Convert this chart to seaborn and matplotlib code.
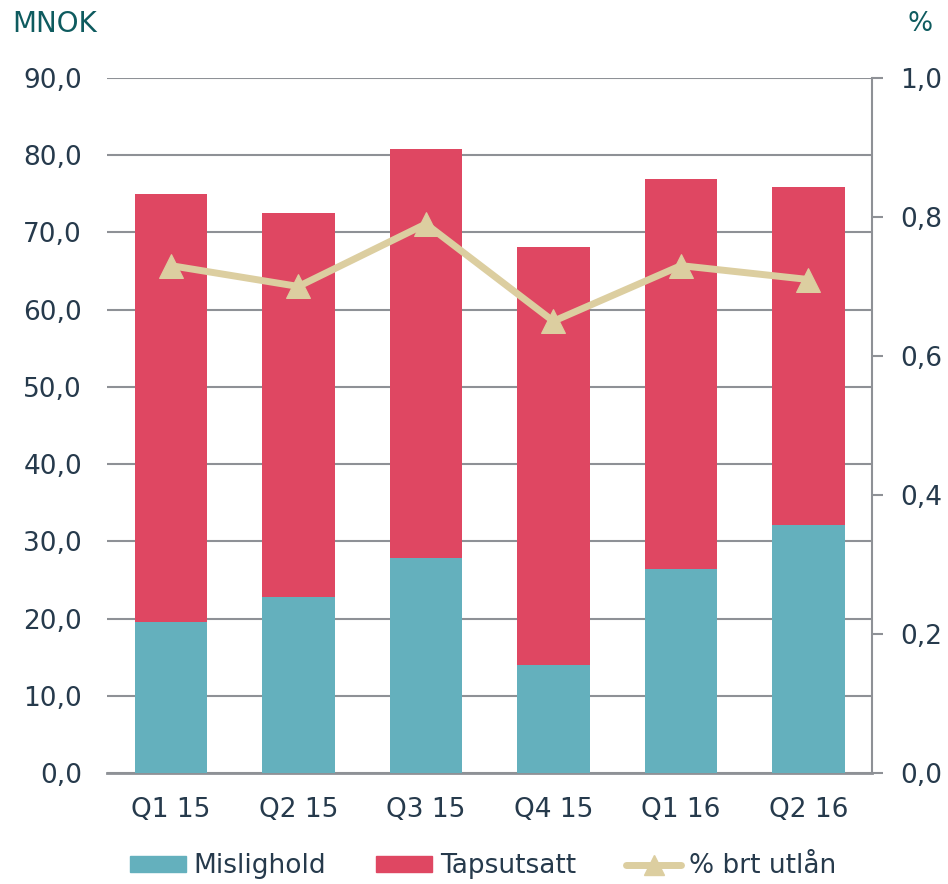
"""
Mislighold / Tapsutsatt per kvartal med % brt utlån
"""
import matplotlib
matplotlib.use('Agg')
import matplotlib.pyplot as plt
import matplotlib.ticker as mticker
import seaborn as sns
import pandas as pd

# data
kvartal = ['Q1 15', 'Q2 15', 'Q3 15', 'Q4 15', 'Q1 16', 'Q2 16']
mislighold = [19.5, 22.8, 27.8, 14.0, 26.4, 32.1]
tapsutsatt = [55.5, 49.7, 53.0, 54.1, 50.5, 43.8]
pst_utlan = [0.73, 0.70, 0.79, 0.65, 0.73, 0.71]

df = pd.DataFrame({'kvartal': kvartal, 'mislighold': mislighold,
                   'tapsutsatt': tapsutsatt, 'pst': pst_utlan})
df['total'] = df['mislighold'] + df['tapsutsatt']

sns.set_style('white')
plt.rcParams['font.family'] = ['DejaVu Sans']

teal = '#64b0bd'
red = '#df4762'
beige = '#dccea0'
txt = '#263a4c'
grid = '#8e9196'

fig = plt.figure(figsize=(9.48, 8.84), dpi=100)
ax = fig.add_axes([0.113, 0.1256, 0.807, 0.7862])

# stablet søyle: total i rødt, mislighold oppå i teal
sns.barplot(data=df, x='kvartal', y='total', color=red, width=0.57,
            saturation=1, linewidth=0, ax=ax, zorder=3)
sns.barplot(data=df, x='kvartal', y='mislighold', color=teal, width=0.57,
            saturation=1, linewidth=0, ax=ax, zorder=3)

ax.set_ylim(0, 90)
ax.set_xlim(-0.5, 5.5)
ax.set_yticks(range(0, 91, 10))
ax.yaxis.set_major_formatter(mticker.FuncFormatter(lambda v, p: f'{v:.1f}'.replace('.', ',')))
ax.grid(axis='y', color=grid, linewidth=1.5, zorder=0)
ax.set_axisbelow(True)
for s in ['top', 'right', 'left']:
    ax.spines[s].set_visible(False)
ax.spines['bottom'].set_color(grid)
ax.spines['bottom'].set_linewidth(2)
ax.tick_params(axis='y', length=0, pad=18, labelsize=19, labelcolor=txt)
ax.tick_params(axis='x', length=0, pad=17, labelsize=19, labelcolor=txt)
ax.set_xlabel('')
ax.set_ylabel('')

# høyre akse med linje
ax2 = ax.twinx()
sns.lineplot(data=df, x='kvartal', y='pst', color=beige, linewidth=5,
             marker='^', markersize=17, markeredgecolor=beige, ax=ax2,
             sort=False, zorder=5)
ax2.set_ylim(0, 1.0)
ax2.set_xlim(-0.5, 5.5)
ax2.set_yticks([0, 0.2, 0.4, 0.6, 0.8, 1.0])
ax2.yaxis.set_major_formatter(mticker.FuncFormatter(lambda v, p: f'{v:.1f}'.replace('.', ',')))
for s in ['top', 'left', 'bottom']:
    ax2.spines[s].set_visible(False)
ax2.spines['right'].set_color(grid)
ax2.spines['right'].set_linewidth(1.5)
ax2.tick_params(axis='y', length=8, width=1.5, color=grid, pad=12,
                labelsize=19, labelcolor=txt)
ax2.set_ylabel('')
ax2.set_xlabel('')

fig.text(0.013, 0.973, 'MNOK', fontsize=20, color='#0e5b5f', va='center')
fig.text(0.971, 0.973, '%', fontsize=19, color='#0e5b5f', va='center', ha='center')

# legende
from matplotlib.patches import Patch
from matplotlib.lines import Line2D
handles = [Patch(color=teal, label='Mislighold'),
           Patch(color=red, label='Tapsutsatt'),
           Line2D([], [], color=beige, linewidth=5, marker='^', markersize=15,
                  label='% brt utlån')]
fig.legend(handles=handles, loc='center', bbox_to_anchor=(0.51, 0.02), ncol=3,
           frameon=False, fontsize=19, handlelength=2.1, handleheight=0.55,
           columnspacing=1.9, handletextpad=0.3, labelcolor=txt)

fig.savefig('out.png', dpi=100)
